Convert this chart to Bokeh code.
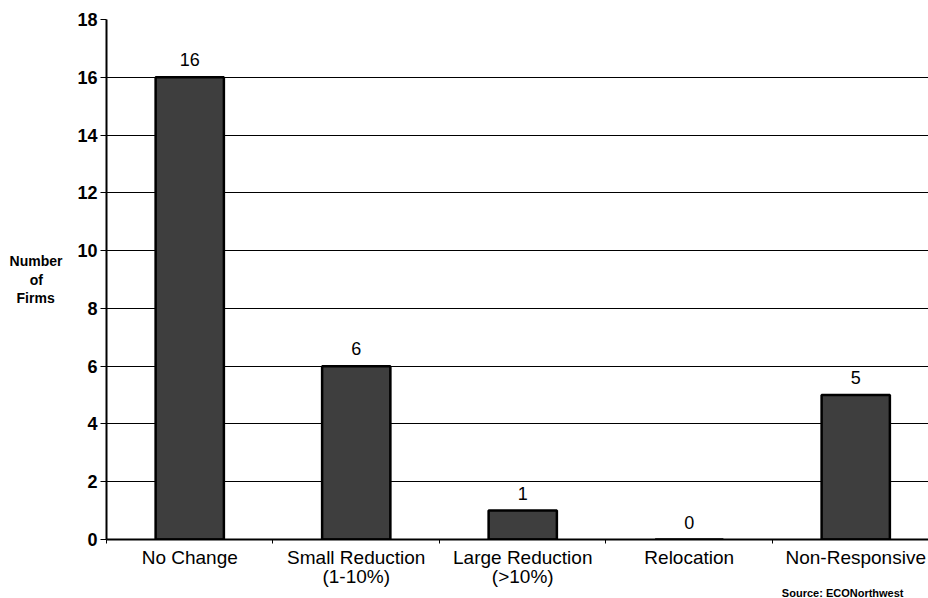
from bokeh.plotting import figure
from bokeh.models import Range1d, FixedTicker, ColumnDataSource, LabelSet, Title
from bokeh.core.properties import value
from bokeh.embed import file_html
from bokeh.resources import INLINE

categories = ["No Change", "Small Reduction\n(1-10%)", "Large Reduction\n(>10%)", "Relocation", "Non-Responsive"]
firms = [16, 6, 1, 0, 5]
y_ticks = [0, 2, 4, 6, 8, 10, 12, 14, 16, 18]
y_label_lines = ["Number", "of", "Firms"]
source_note = "Source: ECONorthwest"

FONT = "Liberation Sans"
NB = "\u00a0"

xs = list(range(len(categories)))
src = ColumnDataSource(data=dict(x=xs, top=firms, lbl=[str(v) for v in firms]))

p = figure(width=928, height=598, output_backend="svg", toolbar_location=None,
           x_range=Range1d(-0.5, 4.437), y_range=Range1d(0, 18),
           min_border_left=106, min_border_right=0, min_border_top=19, min_border_bottom=59)
p.outline_line_color = None
p.background_fill_color = "white"
p.border_fill_color = "white"

p.vbar(x="x", top="top", width=0.41, bottom=0, source=src,
       fill_color="#3e3e3e", line_color="black", line_width=2.5)

labels = LabelSet(x="x", y="top", text="lbl", source=src, text_align="center",
                  text_baseline="bottom", y_offset=11, text_font=value(FONT),
                  text_font_size=value("18px"), text_color="black")
p.add_layout(labels)

# y axis
p.yaxis.ticker = FixedTicker(ticks=y_ticks)
p.yaxis.axis_line_color = "black"
p.yaxis.axis_line_width = 2
p.yaxis.major_tick_out = 6
p.yaxis.major_tick_in = 0
p.yaxis.minor_tick_line_color = None
p.yaxis.major_tick_line_color = "black"
p.yaxis.major_label_text_font = FONT
p.yaxis.major_label_text_font_style = "bold"
p.yaxis.major_label_text_font_size = "18px"
p.yaxis.major_label_text_color = "black"
p.yaxis.major_label_standoff = 3
# pad shorter lines so the right-aligned block looks centred
p.yaxis.axis_label = "\n".join([y_label_lines[0],
                                y_label_lines[1] + NB * 5,
                                y_label_lines[2] + NB * 2])
p.yaxis.axis_label_orientation = "horizontal"
p.yaxis.axis_label_text_font = FONT
p.yaxis.axis_label_text_font_style = "bold"
p.yaxis.axis_label_text_font_size = "14px"
p.yaxis.axis_label_text_color = "black"
p.yaxis.axis_label_standoff = 12
p.yaxis.axis_label_text_line_height = 1.15

# x axis
p.xaxis.ticker = FixedTicker(ticks=xs, minor_ticks=[-0.5, 0.5, 1.5, 2.5, 3.5])
p.xaxis.major_label_overrides = {i: c for i, c in enumerate(categories)}
p.xaxis.axis_line_color = "black"
p.xaxis.axis_line_width = 2
p.xaxis.major_tick_line_color = None
p.xaxis.minor_tick_line_color = "black"
p.xaxis.minor_tick_out = 4
p.xaxis.minor_tick_in = 0
p.xaxis.major_label_text_font = FONT
p.xaxis.major_label_text_font_size = "19px"
p.xaxis.major_label_text_color = "black"
p.xaxis.major_label_standoff = 1
p.xaxis.major_label_text_line_height = 0.95

p.xgrid.grid_line_color = None
p.ygrid.ticker = FixedTicker(ticks=y_ticks)
p.ygrid.grid_line_color = "black"
p.ygrid.grid_line_width = 1

p.add_layout(Title(text=source_note, align="right", offset=25, text_font=FONT,
                   text_font_style="bold", text_font_size="11px", text_color="black",
                   standoff=-7, vertical_align="top"), "below")

open("out.html", "w").write(file_html(p, INLINE))
